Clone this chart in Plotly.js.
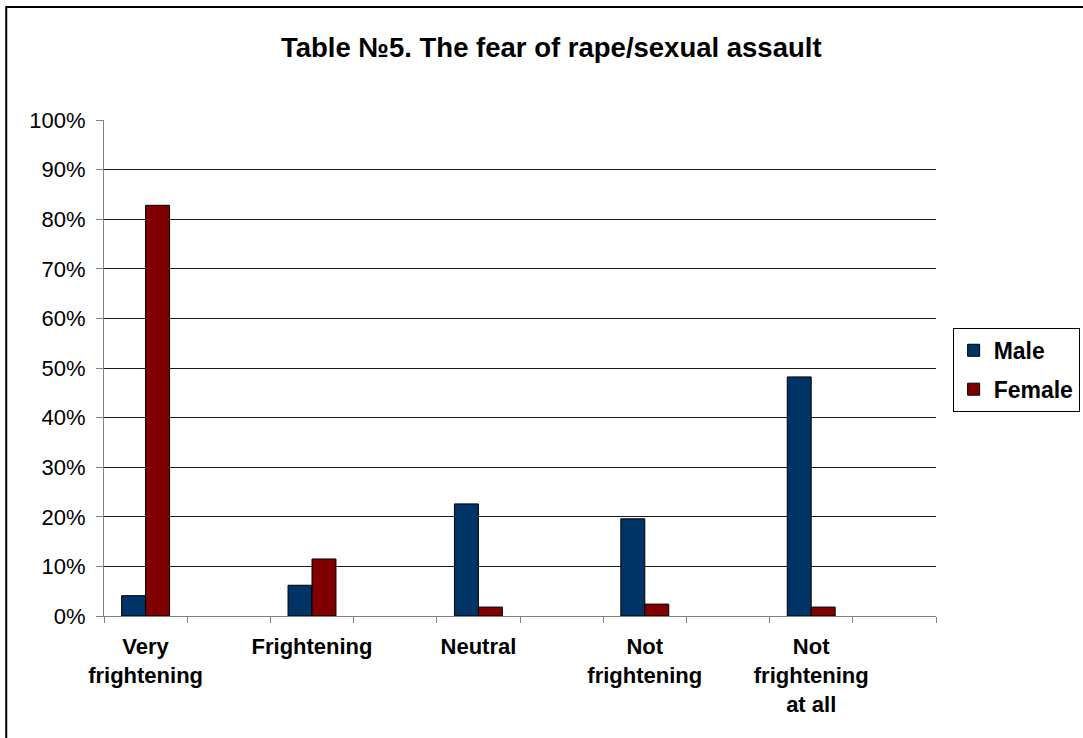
<!DOCTYPE html>
<html>
<head>
<meta charset="utf-8">
<script src="https://cdn.plot.ly/plotly-3.0.1.min.js"></script>
<style>html,body{margin:0;padding:0;background:#fff;}#chart{width:1083px;height:738px;}</style>
</head>
<body>
<div id="chart"></div>
<script>
var categories = ["Very<br>frightening", "Frightening", "Neutral", "Not<br>frightening", "Not<br>frightening<br>at all"];
var maleValues = [4.1, 6.2, 22.6, 19.6, 48.2];
var femaleValues = [82.8, 11.5, 1.8, 2.4, 1.8];
var seriesNames = ["Male", "Female"];
var yTickValues = [0, 10, 20, 30, 40, 50, 60, 70, 80, 90, 100];
var yTickLabels = ["0%", "10%", "20%", "30%", "40%", "50%", "60%", "70%", "80%", "90%", "100%"];

var positions = categories.map(function(c, i){ return i; });
var FONT = "Liberation Sans, Arial, sans-serif";

var traces = [
  {type: "bar", name: "<b>" + seriesNames[0] + "</b>", x: positions, y: maleValues,
   marker: {color: "#003366", line: {color: "#000", width: 1}}, legendgroup: "a", hoverinfo: "skip"},
  {type: "bar", name: "<b>" + seriesNames[1] + "</b>", x: positions, y: femaleValues,
   marker: {color: "#800000", line: {color: "#000", width: 1}}, legendgroup: "b", hoverinfo: "skip"}
];

var layout = {
  width: 1083, height: 738,
  margin: {l: 104, r: 147, t: 120, b: 122, autoexpand: false},
  paper_bgcolor: "#fff", plot_bgcolor: "#fff",
  font: {family: FONT, color: "#000"},
  title: {text: "<b>Table №5. The fear of rape/sexual assault</b>", font: {size: 27.5, family: FONT, color: "#000"},
          x: 0.509, xanchor: "center", y: 0.936, yanchor: "middle"},
  barmode: "group", bargap: 0.712, bargroupgap: 0,
  showlegend: true,
  legend: {x: 1.02, xanchor: "left", y: 0.581, yanchor: "top", bordercolor: "#000", borderwidth: 1,
           font: {size: 23, family: FONT, color: "#000"}, traceorder: "grouped", tracegroupgap: 6,
           itemwidth: 30},
  xaxis: {type: "linear", range: [-0.25, 4.75], tickvals: positions, ticktext: categories.map(function(c){return "<b>"+c+"</b>";}),
          ticks: "", tickfont: {size: 22, family: FONT, color: "#000"}, ticklabelstandoff: 11,
          showgrid: false, zeroline: false, showline: true, linecolor: "#808080", linewidth: 1, automargin: false,
          minor: {tick0: -0.25, dtick: 0.5, ticks: "outside", ticklen: 6, tickcolor: "#808080", tickwidth: 1, showgrid: false},
          fixedrange: true},
  yaxis: {range: [0, 100], tickvals: yTickValues, ticktext: yTickLabels, ticks: "outside", ticklen: 7, tickcolor: "#808080",
          tickfont: {size: 22, family: FONT, color: "#000"}, ticklabelstandoff: 6, showgrid: true, gridcolor: "#1a1a1a", gridwidth: 1, automargin: false,
          zeroline: false, showline: true, linecolor: "#808080", linewidth: 1, fixedrange: true},
  shapes: [{type: "rect", xref: "paper", yref: "paper", x0: -0.1175, x1: 1.19, y0: -0.27, y1: 1.2278,
            line: {color: "#000", width: 2}, fillcolor: "rgba(0,0,0,0)", layer: "above"}]
};

Plotly.newPlot("chart", traces, layout, {staticPlot: true, displayModeBar: false});
</script>
</body>
</html>
